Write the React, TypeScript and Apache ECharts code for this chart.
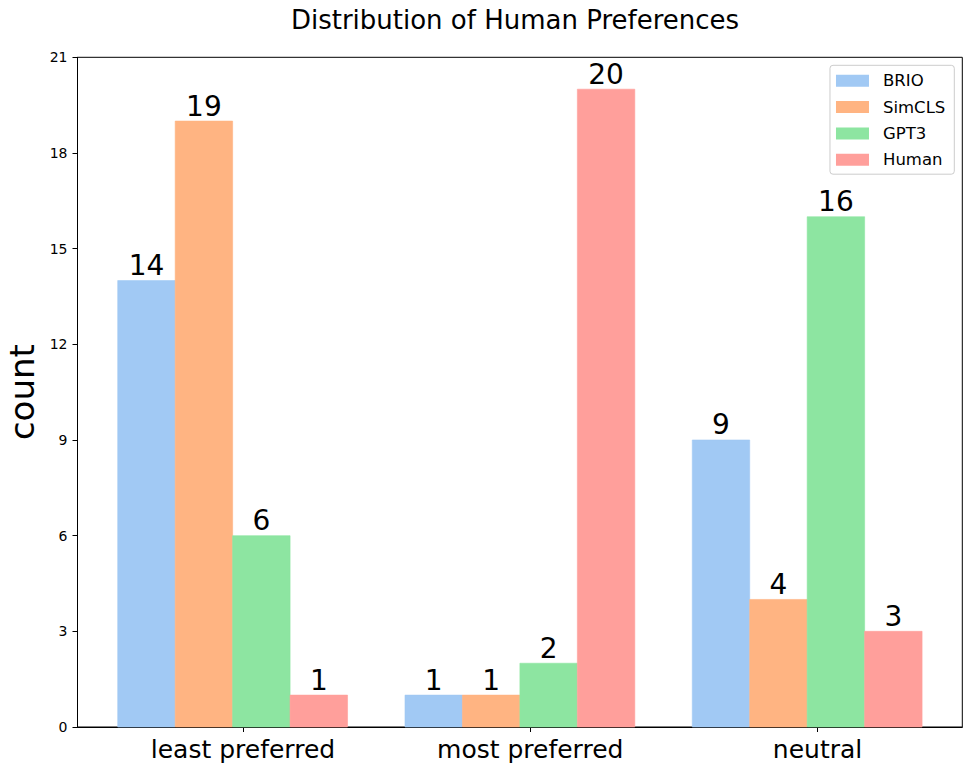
import React, { useEffect, useRef } from "react";
import * as echarts from "echarts";

const categories = ["least preferred", "most preferred", "neutral"];
const seriesNames = ["BRIO", "SimCLS", "GPT3", "Human"];
const brioValues = [14, 1, 9];
const simclsValues = [19, 1, 4];
const gpt3Values = [6, 2, 16];
const humanValues = [1, 20, 3];
const yTicks = [0, 3, 6, 9, 12, 15, 18, 21];

const COLORS = ["#a1c9f4", "#ffb482", "#8de5a1", "#ff9f9b"];
const FONT = "DejaVu Sans";
const BAR_W = 0.2;
const GROUP_SHIFT = -0.036;

export default function App() {
  const ref = useRef<HTMLDivElement>(null);
  useEffect(() => {
    if (!ref.current) return;
    const chart = echarts.init(ref.current, undefined, { renderer: "svg" });
    const allValues = [brioValues, simclsValues, gpt3Values, humanValues];
    const xMin = -2 * BAR_W + GROUP_SHIFT - 0.14;
    const xMax = categories.length - 1 + 2 * BAR_W + GROUP_SHIFT + 0.14;

    const series = seriesNames.map((name, k) => ({
      name,
      type: "custom",
      itemStyle: { color: COLORS[k] },
      data: categories.map((_, i) => [i + (k - 1.5) * BAR_W + GROUP_SHIFT, allValues[k][i]]),
      renderItem: (params: any, api: any) => {
        const x = api.value(0);
        const y = api.value(1);
        const p0 = api.coord([x - BAR_W / 2, y]);
        const p1 = api.coord([x + BAR_W / 2, 0]);
        return {
          type: "group",
          children: [
            {
              type: "rect",
              shape: { x: p0[0], y: p0[1], width: p1[0] - p0[0], height: p1[1] - p0[1] },
              style: { fill: COLORS[k], stroke: COLORS[k], lineWidth: 0.6 },
            },
            {
              type: "text",
              z2: 10,
              style: {
                text: String(y),
                x: (p0[0] + p1[0]) / 2,
                y: p0[1] - 1,
                align: "center",
                verticalAlign: "bottom",
                fontSize: 28,
                fontFamily: FONT,
                fill: "#000",
                stroke: "none",
                lineWidth: 0,
              },
            },
          ],
        };
      },
    }));

    chart.setOption({
      animation: false,
      backgroundColor: "#fff",
      textStyle: { fontFamily: FONT },
      title: {
        text: "Distribution of Human Preferences",
        left: 510,
        top: 2,
        textAlign: "center",
        textStyle: { fontSize: 26, fontWeight: "normal", color: "#000", fontFamily: FONT },
      },
      legend: {
        orient: "vertical",
        right: 16.7,
        top: 65.3,
        icon: "rect",
        itemWidth: 33,
        itemHeight: 12,
        itemGap: 9.3,
        padding: [7, 9, 6, 6],
        backgroundColor: "rgba(255,255,255,0.8)",
        borderColor: "#cccccc",
        borderWidth: 1,
        borderRadius: 3,
        textStyle: { fontSize: 16.5, lineHeight: 16, color: "#000", fontFamily: FONT, padding: [0, 0, 0, 9] },
        data: seriesNames,
      },
      grid: {
        left: 77.5,
        right: 8.7,
        top: 57.3,
        bottom: 44,
        outerBoundsMode: "none",
        containLabel: false,
        show: true,
        borderColor: "#000",
        borderWidth: 1,
        backgroundColor: "transparent",
      },
      xAxis: {
        type: "value",
        min: xMin,
        max: xMax,
        splitLine: { show: false },
        axisLine: { show: true, onZero: false, lineStyle: { color: "#000", width: 1 } },
        axisTick: {
          show: true,
          length: 5,
          lineStyle: { color: "#000" },
          customValues: categories.map((_, i) => i),
        },
        axisLabel: {
          show: true,
          fontSize: 25,
          color: "#000",
          margin: 10,
          fontFamily: FONT,
          customValues: categories.map((_, i) => i),
          formatter: (v: number) => categories[Math.round(v)] ?? "",
        },
      },
      yAxis: {
        type: "value",
        min: 0,
        max: 21,
        interval: 3,
        name: "count",
        nameLocation: "middle",
        nameGap: 38,
        nameTextStyle: { fontSize: 34, color: "#000", fontFamily: FONT },
        splitLine: { show: false },
        axisLine: { show: true, onZero: false, lineStyle: { color: "#000", width: 1 } },
        axisTick: { show: true, length: 5, lineStyle: { color: "#000" } },
        axisLabel: {
          fontSize: 14,
          color: "#000",
          margin: 10,
          fontFamily: FONT,
          customValues: yTicks,
        },
      },
      series,
    });
    return () => chart.dispose();
  }, []);
  return (
    <div
      ref={ref}
      style={{ position: "fixed", left: 0, top: 0, width: 971, height: 771 }}
    />
  );
}
